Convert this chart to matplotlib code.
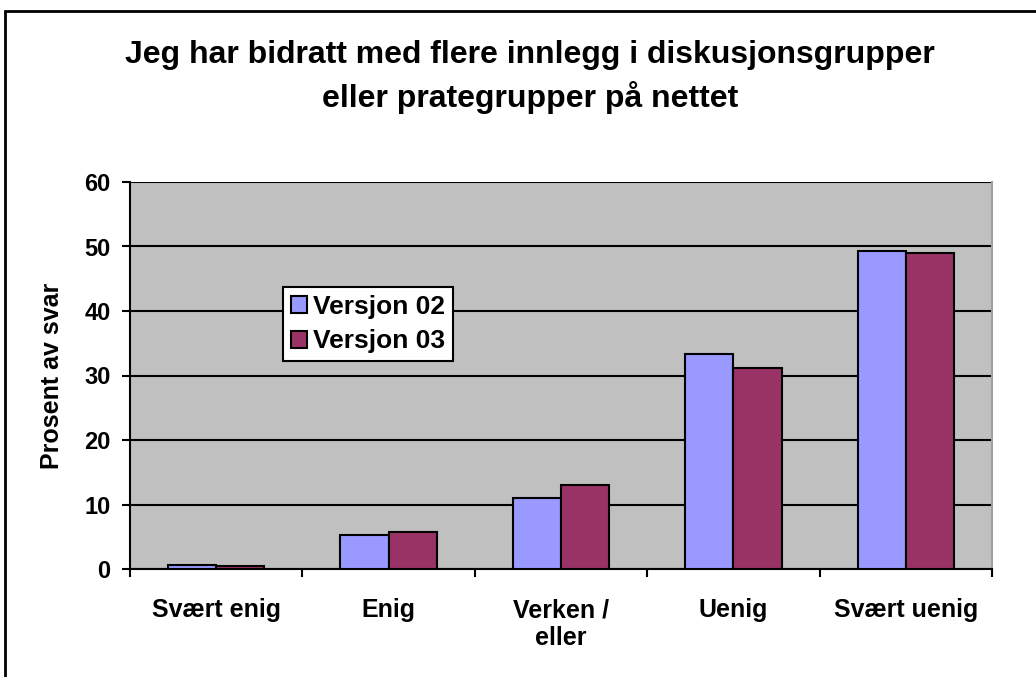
import matplotlib
matplotlib.use("Agg")
import matplotlib.pyplot as plt
import numpy as np
from matplotlib.patches import Rectangle

categories = ["Svært enig", "Enig", "Verken /\neller", "Uenig", "Svært uenig"]
series_names = ["Versjon 02", "Versjon 03"]
v02 = [0.6, 5.3, 11.0, 33.3, 49.3]
v03 = [0.5, 5.7, 13.0, 31.2, 49.0]
yticks = [0, 10, 20, 30, 40, 50, 60]

plt.rcParams['font.family'] = ['Liberation Sans', 'DejaVu Sans']
plt.rcParams['font.weight'] = 'bold'

fig = plt.figure(figsize=(10.36, 6.77), dpi=100)
W, H = 1036, 677
ax = fig.add_axes([130 / W, 1 - 569 / H, (992 - 130) / W, (569 - 182) / H])
ax.set_facecolor('#C0C0C0')

x = np.arange(len(categories))
bw = 0.28
ax.bar(x - bw / 2, v02, bw, color='#9999FF', edgecolor='black', linewidth=1.5, label=series_names[0], zorder=3)
ax.bar(x + bw / 2, v03, bw, color='#993366', edgecolor='black', linewidth=1.5, label=series_names[1], zorder=3)

ax.set_xlim(-0.5, len(categories) - 0.5)
ax.set_ylim(0, 60)
ax.set_yticks(yticks)
ax.set_yticklabels([str(t) for t in yticks], fontsize=17, fontweight='bold')
ax.yaxis.grid(True, color='black', linewidth=1.5, zorder=1)
ax.set_axisbelow(True)

ax.set_xticks(np.arange(len(categories) + 1) - 0.5)
ax.set_xticklabels([])
ax.set_xticks(x, minor=True)
ax.set_xticklabels(categories, minor=True, fontsize=18, fontweight='bold', linespacing=1.2)
ax.tick_params(axis='x', which='minor', length=0, pad=21)
ax.tick_params(axis='x', which='major', length=6, width=1.5, direction='out')
ax.tick_params(axis='y', length=6, width=1.5, direction='out', pad=8)

for s in ['left', 'bottom']:
    ax.spines[s].set_linewidth(1.5)
    ax.spines[s].set_color('black')
ax.spines['top'].set_visible(False)
ax.spines['right'].set_color('#A0A0A0')
ax.spines['right'].set_linewidth(1.5)

ax.set_ylabel("Prosent av svar", fontsize=18, fontweight='bold')
ax.yaxis.set_label_coords((64 - 130) / 862, 0.5)

leg = ax.legend(loc='upper left', bbox_to_anchor=((283 - 130) / 862, 1 - (287 - 182) / 387),
                frameon=True, fancybox=False, edgecolor='black', fontsize=19,
                handlelength=0.6, handleheight=0.6, handletextpad=0.25,
                borderpad=0.3, labelspacing=0.4, borderaxespad=0)
leg.get_frame().set_linewidth(1.5)
leg.get_frame().set_facecolor('white')
leg.get_frame().set_alpha(1)
for t in leg.get_texts():
    t.set_fontweight('bold')

fig.text(530 / W, 1 - 77 / H, "Jeg har bidratt med flere innlegg i diskusjonsgrupper\neller prategrupper på nettet",
         ha='center', va='center', fontsize=23, fontweight='bold', linespacing=1.4)

fig.patches.append(Rectangle((5 / W, -0.1), 1.2, (H - 11) / H + 0.1, transform=fig.transFigure,
                             fill=False, edgecolor='black', linewidth=2))

fig.savefig("out.png", dpi=100)
